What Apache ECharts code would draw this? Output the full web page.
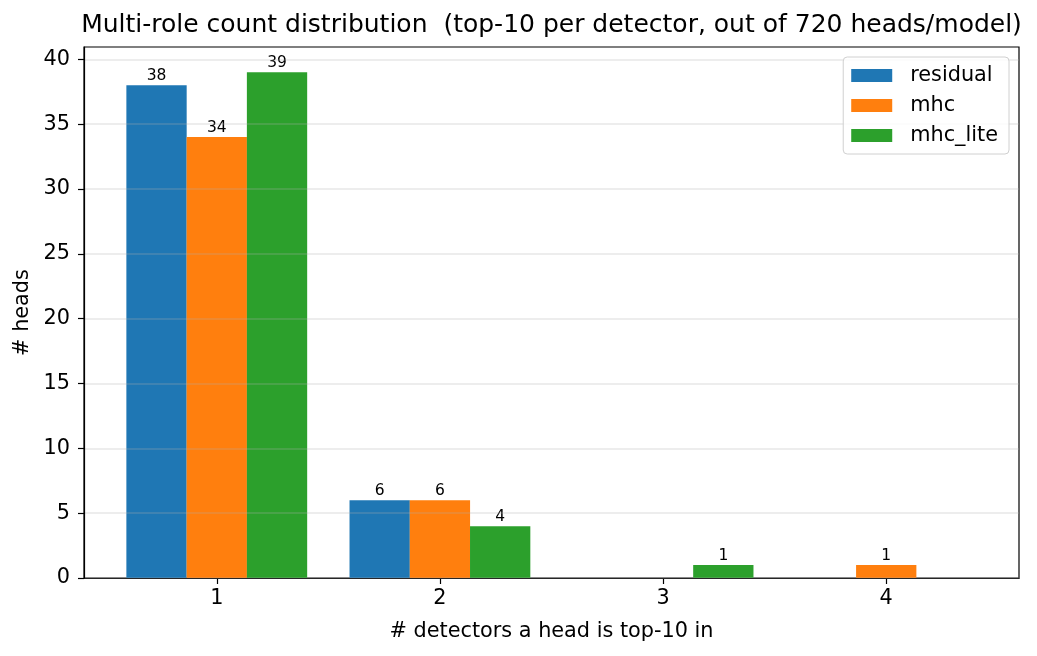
<!DOCTYPE html>
<html>
<head>
<meta charset="utf-8">
<script src="https://cdn.jsdelivr.net/npm/echarts@6/dist/echarts.min.js"></script>
<style>
html,body{margin:0;padding:0;background:#fff;}
#chart{width:1037px;height:656px;}
</style>
</head>
<body>
<div id="chart"></div>
<script>
const categories = [1, 2, 3, 4];
const seriesNames = ['residual', 'mhc', 'mhc_lite'];
const residual = [38, 6, 0, 0];
const mhc = [34, 6, 0, 1];
const mhcLite = [39, 4, 1, 0];
const yTicks = [0, 5, 10, 15, 20, 25, 30, 35, 40];
const colors = ['#1f77b4', '#ff7f0e', '#2ca02c'];
const offsets = [-0.27, 0, 0.27];
const allValues = [residual, mhc, mhcLite];

const chart = echarts.init(document.getElementById('chart'), null, {renderer: 'canvas'});
const FONT = 'DejaVu Sans';

const series = allValues.map((vals, i) => ({
  name: seriesNames[i],
  type: 'bar',
  barWidth: 60.3,
  barGap: '-100%',
  z: 2,
  itemStyle: {color: colors[i]},
  data: categories.map((c, j) => [c + offsets[i], vals[j]]),
  label: {
    show: true,
    position: 'top',
    distance: 1,
    fontFamily: FONT,
    fontSize: 15.5,
    color: '#000',
    formatter: p => (p.value[1] === 0 ? '' : String(p.value[1]))
  }
}));

chart.setOption({
  animation: false,
  backgroundColor: '#fff',
  color: colors,
  title: {
    text: 'Multi-role count distribution  (top-10 per detector, out of 720 heads/model)',
    left: 551.5,
    textAlign: 'center',
    top: 13,
    padding: 0,
    textStyle: {fontFamily: FONT, fontSize: 25, fontWeight: 'normal', color: '#000'}
  },
  legend: {
    orient: 'vertical',
    right: 28,
    top: 57,
    icon: 'rect',
    itemWidth: 41,
    itemHeight: 13,
    itemGap: 9,
    padding: [8, 11, 8, 8],
    borderColor: '#d0d0d0',
    borderWidth: 1,
    borderRadius: 4,
    backgroundColor: 'rgba(255,255,255,0.8)',
    data: seriesNames,
    textStyle: {fontFamily: FONT, fontSize: 20.8, color: '#000', padding: [0, 0, 0, 13]}
  },
  grid: {
    left: 84, right: 18, top: 47, bottom: 78,
    show: true, borderColor: '#000', borderWidth: 1.2,
    containLabel: false
  },
  xAxis: {
    type: 'value',
    min: 0.405,
    max: 4.595,
    name: '# detectors a head is top-10 in',
    nameLocation: 'middle',
    nameGap: 43,
    nameTextStyle: {fontFamily: FONT, fontSize: 20.8, color: '#000'},
    axisLine: {show: true, lineStyle: {color: '#000', width: 1.2}},
    axisTick: {show: true, length: 6, lineStyle: {color: '#000', width: 1.2}, customValues: categories},
    axisLabel: {show: true, margin: 10, fontFamily: FONT, fontSize: 20.8, color: '#000', customValues: categories},
    splitLine: {show: false}
  },
  yAxis: {
    type: 'value',
    min: 0,
    max: 40.95,
    interval: 5,
    z: 3,
    name: '# heads',
    nameLocation: 'middle',
    nameGap: 50,
    nameTextStyle: {fontFamily: FONT, fontSize: 20.8, color: '#000'},
    axisLine: {show: true, lineStyle: {color: '#000', width: 1.2}},
    axisTick: {show: true, length: 6, lineStyle: {color: '#000', width: 1.2}, customValues: yTicks},
    axisLabel: {show: true, margin: 14, fontFamily: FONT, fontSize: 20.8, color: '#000', customValues: yTicks},
    splitLine: {show: true, lineStyle: {color: 'rgba(176,176,176,0.3)', width: 1.5}}
  },
  series: series
});
</script>
</body>
</html>
